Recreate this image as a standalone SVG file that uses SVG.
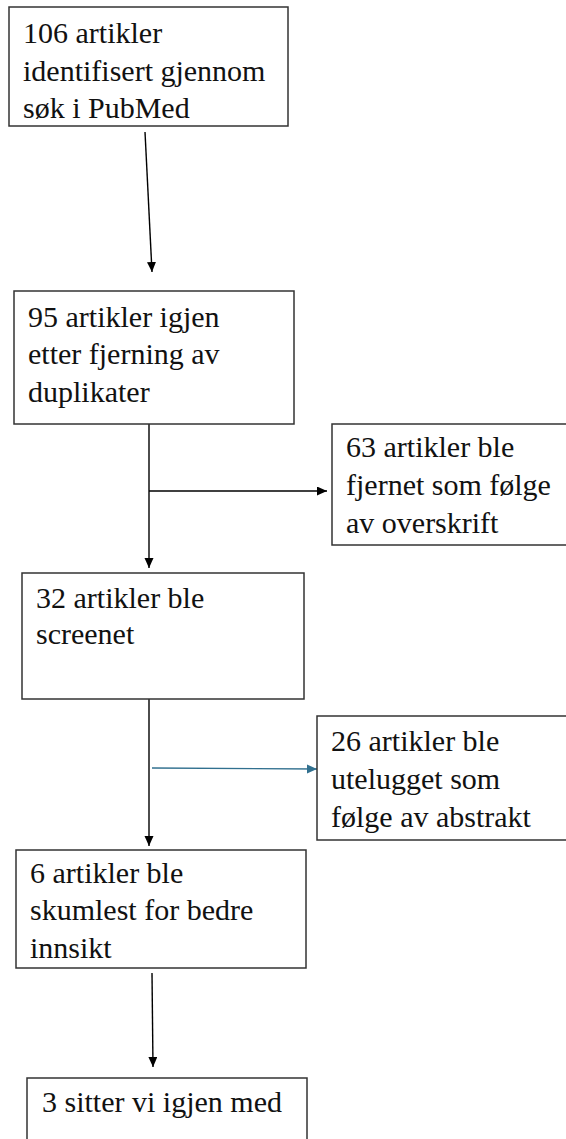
<svg xmlns="http://www.w3.org/2000/svg" width="566" height="1139" viewBox="0 0 566 1139">
  <style>
    .box { fill: #ffffff; stroke: #333333; stroke-width: 1.5; }
    .con { stroke: #000000; stroke-width: 1.4; fill: none; }
    .blue { stroke: #31708f; stroke-width: 1.4; fill: none; }
  </style>
  <defs>
    <marker id="ah" markerUnits="userSpaceOnUse" markerWidth="11" markerHeight="10" refX="10" refY="4.5" orient="auto">
      <path d="M0,0 L10,4.5 L0,9 z" fill="#000000"/>
    </marker>
    <marker id="ahb" markerUnits="userSpaceOnUse" markerWidth="11" markerHeight="10" refX="10" refY="4.5" orient="auto">
      <path d="M0,0 L10,4.5 L0,9 z" fill="#31708f"/>
    </marker>
  </defs>
  <rect width="566" height="1139" fill="#ffffff"/>

  <g id="connectors">
    <line class="con" x1="145" y1="132" x2="152" y2="272" marker-end="url(#ah)"/>
    <line class="con" x1="149" y1="424" x2="149" y2="568" marker-end="url(#ah)"/>
    <line class="con" x1="149" y1="491" x2="327" y2="491" marker-end="url(#ah)"/>
    <line class="con" x1="149" y1="699" x2="149" y2="846" marker-end="url(#ah)"/>
    <line class="blue" x1="152" y1="768" x2="317" y2="769" marker-end="url(#ahb)"/>
    <line class="con" x1="152" y1="973" x2="153" y2="1067" marker-end="url(#ah)"/>
  </g>

  <g font-family="Liberation Serif, DejaVu Serif, serif" font-size="30" fill="#111111">
  <g id="n1">
    <rect class="box" x="9" y="7" width="279" height="119"/>
    <text x="23" y="43">106 artikler</text>
    <text x="23" y="81">identifisert gjennom</text>
    <text x="23" y="118">søk i PubMed</text>
  </g>

  <g id="n2">
    <rect class="box" x="14" y="291" width="280" height="133"/>
    <text x="28" y="327">95 artikler igjen</text>
    <text x="28" y="364">etter fjerning av</text>
    <text x="28" y="402">duplikater</text>
  </g>

  <g id="n3">
    <rect class="box" x="332" y="424" width="240" height="121"/>
    <text x="346" y="457">63 artikler ble</text>
    <text x="346" y="495">fjernet som følge</text>
    <text x="346" y="533">av overskrift</text>
  </g>

  <g id="n4">
    <rect class="box" x="22" y="573" width="282" height="126"/>
    <text x="36" y="608">32 artikler ble</text>
    <text x="36" y="644">screenet</text>
  </g>

  <g id="n5">
    <rect class="box" x="317" y="716" width="255" height="124"/>
    <text x="331" y="751">26 artikler ble</text>
    <text x="331" y="789">utelugget som</text>
    <text x="331" y="827">følge av abstrakt</text>
  </g>

  <g id="n6">
    <rect class="box" x="16" y="850" width="290" height="118"/>
    <text x="30" y="883">6 artikler ble</text>
    <text x="30" y="920">skumlest for bedre</text>
    <text x="30" y="958">innsikt</text>
  </g>

  <g id="n7">
    <rect class="box" x="27" y="1078" width="280" height="80"/>
    <text x="42" y="1112">3 sitter vi igjen med</text>
  </g>
  </g>
</svg>
